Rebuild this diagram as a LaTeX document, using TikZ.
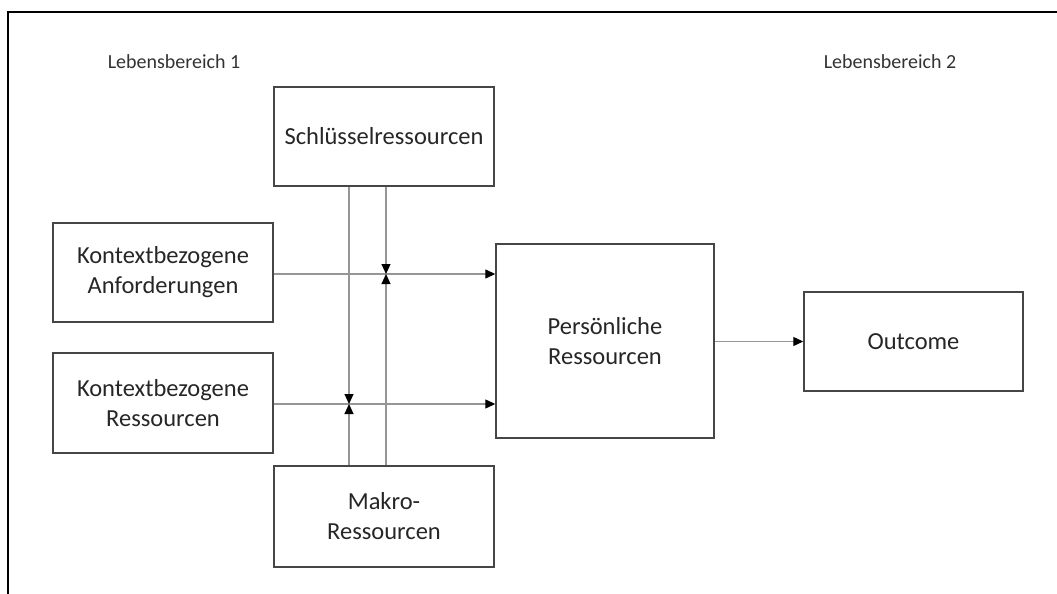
\documentclass[tikz,border=0pt]{standalone}
\usepackage{fontspec}
\setmainfont{Carlito}
\usetikzlibrary{arrows.meta}
\definecolor{boxline}{RGB}{70,70,70}
\definecolor{conn}{RGB}{150,150,150}
\tikzset{
  box/.style={draw=boxline, line width=1.4pt, inner sep=0pt, align=center,
    font=\fontsize{24.5}{30}\selectfont, text=black!85},
  arr/.style={draw=conn, line width=1.1pt,
    -{Triangle[length=10pt,width=9pt,color=black]}},
  lab/.style={font=\fontsize{20}{24}\selectfont, text=black!80, inner sep=0pt}
}
\begin{document}
\begin{tikzpicture}[x=1pt,y=-1pt]
\useasboundingbox (0,0) rectangle (1057,594);
% frame
\draw[line width=2pt] (1057,12) -- (8,12) -- (8,594);
% labels
\node[lab] (lb1) at (174,62) {Lebensbereich 1};
\node[lab] (lb2) at (890,62) {Lebensbereich 2};
% boxes
\node[box, minimum width=220pt, minimum height=99pt] (schl) at (384,136.5) {Schlüsselressourcen};
\node[box, minimum width=220pt, minimum height=99pt] (anf) at (163,272.5) {Kontextbezogene\\Anforderungen};
\node[box, minimum width=220pt, minimum height=100pt] (res) at (163,403) {Kontextbezogene\\Ressourcen};
\node[box, minimum width=220pt, minimum height=101pt] (makro) at (384,516.5) {Makro-\\Ressourcen};
\node[box, minimum width=218pt, minimum height=194pt] (pers) at (605,341) {Persönliche\\Ressourcen};
\node[box, minimum width=219pt, minimum height=99pt] (out) at (913.5,341.5) {Outcome};
% vertical guide coordinates
\coordinate (vL) at (349,0);
\coordinate (vR) at (386,0);
\coordinate (hA) at (0,274);
\coordinate (hR) at (0,404);
% horizontal connectors
\draw[arr] (anf.east |- hA) -- (pers.west |- hA);
\draw[arr] (res.east |- hR) -- (pers.west |- hR);
\draw[arr] (pers.east |- out) -- (out.west);
% moderating connectors
\draw[arr] (schl.south -| vL) -- (vL |- hR);
\draw[arr] (makro.north -| vL) -- (vL |- hR);
\draw[arr] (schl.south -| vR) -- (vR |- hA);
\draw[arr] (makro.north -| vR) -- (vR |- hA);
\end{tikzpicture}
\end{document}
